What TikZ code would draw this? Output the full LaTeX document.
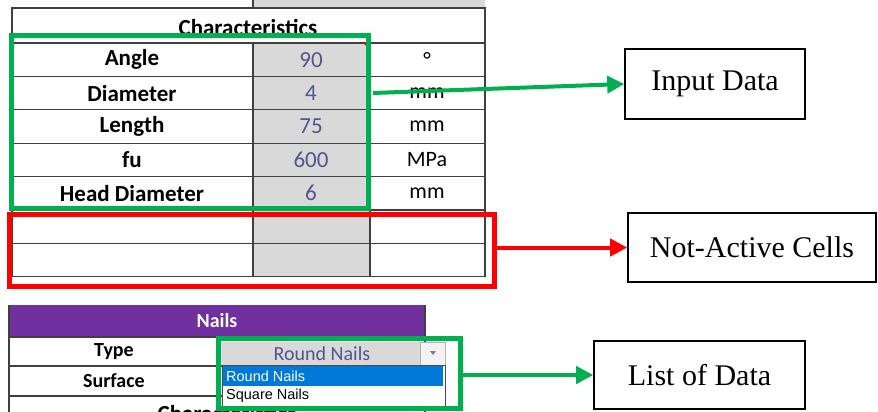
\documentclass[tikz,border=0pt]{standalone}
\usepackage{fontspec}
\setmainfont{Liberation Serif}
\newfontfamily\calibri{Carlito}
\newfontfamily\listfont{Liberation Sans}
\usetikzlibrary{arrows.meta,positioning}

\definecolor{cellgray}{RGB}{217,217,217}
\definecolor{valblue}{RGB}{84,84,140}
\definecolor{nailpurple}{RGB}{112,48,160}
\definecolor{markgreen}{RGB}{0,176,80}
\definecolor{selblue}{RGB}{0,120,215}

\begin{document}
\begin{tikzpicture}[x=1pt,y=-1pt,
    lbl/.style={font=\calibri\bfseries\fontsize{23}{26}\selectfont},
    val/.style={font=\calibri\fontsize{23}{26}\selectfont,text=valblue},
    unit/.style={font=\calibri\fontsize{22}{26}\selectfont},
    grid/.style={line width=1.2pt,black!75},
    hilite/.style={draw,line width=5pt,inner sep=0pt},
    notebox/.style={draw,line width=1.6pt,inner sep=0pt,font=\fontsize{30}{34}\selectfont},
    pointer/.style={line width=4pt,-{Triangle[length=17pt,width=17pt]}}]

\useasboundingbox (0,0) rectangle (878,412);
\clip (0,0) rectangle (878,412);

% characteristics table
\fill[cellgray] (253,0) rectangle (485,8);
\fill[cellgray] (253,43) rectangle (370,277);
\draw[grid] (253,0) -- (253,8);
\draw[grid] (12,8) rectangle (485,43);
\node[lbl] (head) at (248,27) {Characteristics};
\foreach \i in {0,...,7}
  \draw[grid] (12,43+33.4*\i) -- (485,43+33.4*\i);
\foreach \x in {12,253,370,485}
  \draw[grid] (\x,43) -- (\x,277);
\fill[red] (363,43) -- (370,43) -- (370,50) -- cycle;

\foreach \lab/\v/\u [count=\i] in {Angle/90/{°},Diameter/4/mm,Length/75/mm,fu/600/MPa,Head Diameter/6/mm}{
  \pgfmathsetmacro\ry{43+33.4*(\i-0.5)}
  \node[lbl] (lab\i) at (132,\ry) {\lab};
  \node[val] (val\i) at (311,\ry) {\v};
  \node[unit] (unit\i) at (427,\ry) {\u};
}

% nails table
\fill[nailpurple] (9,305) rectangle (425,337);
\node[lbl,text=white,font=\calibri\bfseries\fontsize{20}{24}\selectfont] (nails) at (217,321) {Nails};
\foreach \y in {337,366,396}
  \draw[grid] (9,\y) -- (425,\y);
\draw[grid] (9,305) -- (9,412);
\draw[grid] (425,305) -- (425,412);
\node[lbl,font=\calibri\bfseries\fontsize{20}{24}\selectfont] (type) at (114,352) {Type};
\node[lbl,font=\calibri\bfseries\fontsize{20}{24}\selectfont] (surface) at (114,381) {Surface};
\node[lbl] (head2) at (227,413) {Characteristics};

% drop-down list
\fill[cellgray] (222,342) rectangle (420,365);
\draw[gray!60,fill=gray!10] (420,342) rectangle (445,365);
\fill[gray] (430,351) -- (436,351) -- (433,355) -- cycle;
\node[val,font=\calibri\fontsize{20}{24}\selectfont] (choice) at (322,353.5) {Round Nails};
\draw[black!70,fill=white] (222,365) rectangle (445,407);
\fill[selblue] (223,366) rectangle (443,386);
\node[anchor=west,inner sep=0pt,text=white,font=\listfont\fontsize{14.5}{17}\selectfont] (opt1) at (226,376) {Round Nails};
\node[anchor=west,inner sep=0pt,font=\listfont\fontsize{14.5}{17}\selectfont] (opt2) at (226,396) {Square Nails};

% marked areas
\node[hilite,draw=markgreen,minimum width=357,minimum height=172.5] (inbox) at (189.5,122.25) {};
\node[hilite,draw=red,minimum width=485.5,minimum height=71.5] (offbox) at (251.75,250.25) {};
\node[hilite,draw=markgreen,minimum width=242,minimum height=69.5] (listbox) at (339.5,373.25) {};

% notes
\node[notebox,minimum width=180,minimum height=70] (inData) at (715,84) {Input Data};
\node[notebox,minimum width=248,minimum height=69] (naCells) at (752,247.5) {Not-Active Cells};
\node[notebox,minimum width=211,minimum height=68] (listData) at (699.5,375) {List of Data};

\coordinate (inStart) at (373,93);
\draw[pointer,markgreen] (inStart) -- (inData.west);
\draw[pointer,red] (naCells.west -| offbox.east) -- (naCells.west);
\draw[pointer,markgreen] (listData.west -| listbox.east) -- (listData.west);
\end{tikzpicture}
\end{document}
